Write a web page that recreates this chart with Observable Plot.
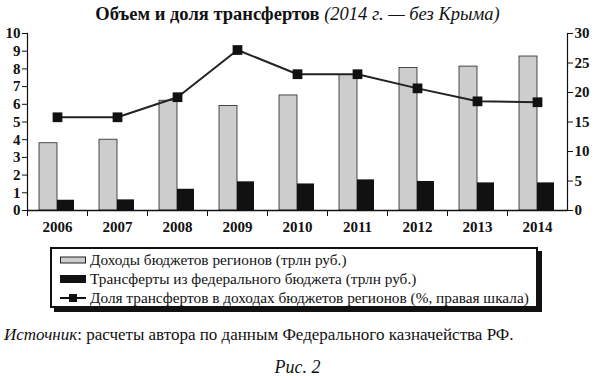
<!DOCTYPE html>
<html><head><meta charset="utf-8">
<script src="https://cdn.jsdelivr.net/npm/d3@7"></script>
<script src="https://cdn.jsdelivr.net/npm/@observablehq/plot@0.6"></script>
<style>
body{margin:0;width:595px;height:376px;position:relative;background:#fff;font-family:"Liberation Serif",serif;color:#111;overflow:hidden}
#title{position:absolute;top:0;left:0;width:595px;text-align:center;font-size:18.5px;line-height:28px;white-space:nowrap}
#title b{font-weight:bold}
#title i{font-style:italic}
#chart{position:absolute;top:26px;left:0}
#legend{position:absolute;left:50px;top:247px;width:484px;height:57px;border:2px solid #111;box-shadow:4px 4px 0 #111;background:#fff;box-sizing:content-box}
.row{position:absolute;left:8px;height:19px;line-height:19px;font-size:15.3px;white-space:nowrap}
.row svg{vertical-align:middle;margin-right:4px;position:relative;top:-1px}
#source{position:absolute;left:4px;top:325px;font-size:17px;white-space:nowrap}
#fig{position:absolute;left:0;width:595px;top:357px;text-align:center;font-size:18px;font-style:italic}
</style></head>
<body>
<div id="title"><b>Объем и доля трансфертов</b> <i>(2014 г. — без Крыма)</i></div>
<div id="chart"></div>
<div id="legend"></div>
<div id="source"><i>Источник</i>: расчеты автора по данным Федерального казначейства РФ.</div>
<div id="fig">Рис. 2</div>
<script>
const years = ["2006","2007","2008","2009","2010","2011","2012","2013","2014"];
const income = [3.8, 4.0, 6.2, 5.9, 6.5, 7.65, 8.05, 8.13, 8.7];
const transfers = [0.58, 0.6, 1.2, 1.62, 1.5, 1.73, 1.64, 1.56, 1.56];
const share = [15.8, 15.8, 19.2, 27.2, 23.1, 23.1, 20.7, 18.5, 18.35];
const leftTicks = [0,1,2,3,4,5,6,7,8,9,10];
const rightTicks = [0,5,10,15,20,25,30];
const legendLabels = [
  "Доходы бюджетов регионов (трлн руб.)",
  "Трансферты из федерального бюджета (трлн руб.)",
  "Доля трансфертов в доходах бюджетов регионов (%, правая шкала)"
];

const data = years.map((y,i)=>({year:y, income:income[i], transfers:transfers[i], share:share[i]}));
const k = 10/30;
const W = 595, mL = 27, mR = 28;
const bw = (W - mL - mR) / years.length;

const chart = Plot.plot({
  width: W, height: 214,
  marginTop: 7, marginBottom: 30, marginLeft: mL, marginRight: mR,
  style: {fontFamily: "Liberation Serif, serif", fontSize: "15px", fontWeight: "bold", color: "#111", background: "transparent"},
  x: {domain: years, padding: 0},
  y: {domain: [0, 10]},
  marks: [
    Plot.barY(data, {x: "year", y: "income", fill: "#cdcdcd", stroke: "#222", strokeWidth: 0.8, insetLeft: 12, insetRight: 30}),
    Plot.barY(data, {x: "year", y: "transfers", fill: "#111", insetLeft: 30, insetRight: 13}),
    Plot.ruleY([0], {stroke: "#111", strokeWidth: 1.5}),
    Plot.frame({anchor: "left", stroke: "#111", strokeWidth: 1.2}),
    Plot.frame({anchor: "right", stroke: "#111", strokeWidth: 1.2}),
    Plot.line(data, {x: "year", y: d => d.share * k, stroke: "#222", strokeWidth: 2}),
    Plot.dot(data, {x: "year", y: d => d.share * k, symbol: "square", r: 5.5, fill: "#111", stroke: "none"}),
    Plot.axisY({anchor: "left", ticks: leftTicks, tickSize: 5, tickPadding: 2, label: null}),
    Plot.axisY({anchor: "right", ticks: rightTicks.map(v => v * k), tickFormat: v => String(Math.round(v / k)), tickSize: 5, tickPadding: 2, label: null}),
    Plot.axisX({tickSize: 6, tickFormat: () => "", dx: -bw / 2, label: null}),
    Plot.axisX({tickSize: 0, tickPadding: 11, label: null})
  ]
});
document.getElementById("chart").appendChild(chart);

const leg = document.getElementById("legend");
const swatches = [
  '<svg width="26" height="10"><rect x="0.5" y="2" width="25" height="6" fill="#cdcdcd" stroke="#222"/></svg>',
  '<svg width="26" height="10"><rect x="0" y="1" width="26" height="8" fill="#111"/></svg>',
  '<svg width="26" height="10"><line x1="0" y1="5" x2="26" y2="5" stroke="#111" stroke-width="2"/><rect x="9" y="1" width="8" height="8" fill="#111"/></svg>'
];
legendLabels.forEach((t,i)=>{
  const r = document.createElement("div");
  r.className = "row";
  r.style.top = (1 + i*19) + "px";
  r.innerHTML = swatches[i];
  r.appendChild(document.createTextNode(t));
  leg.appendChild(r);
});
</script>
</body></html>
